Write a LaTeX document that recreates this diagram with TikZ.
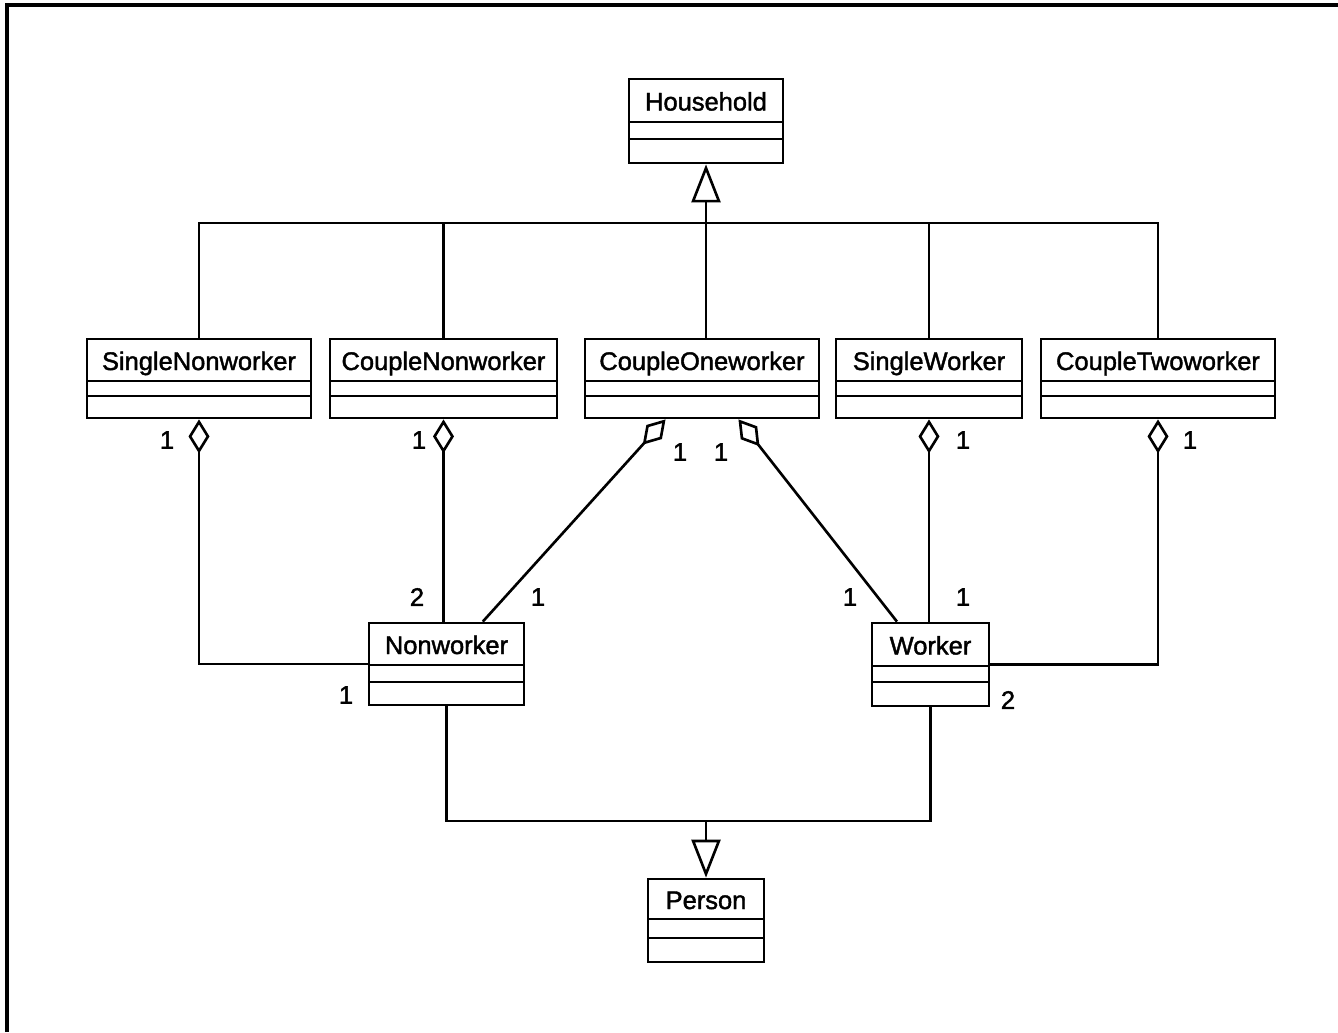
\documentclass[tikz,border=0pt]{standalone}
\usepackage{fontspec}
\setmainfont{Liberation Sans}
\newfontfamily\umlfont{Liberation Sans}[FakeBold=1.6]
\usetikzlibrary{arrows.meta,calc,fit}

\tikzset{
  classbox/.style={draw, line width=1.6pt, inner sep=0pt},
  classname/.style={font=\umlfont\fontsize{14.5}{17}\selectfont, anchor=base, inner sep=0pt},
  mult/.style={font=\umlfont\fontsize{14.5}{17}\selectfont, inner sep=0pt},
  conn/.style={line width=1.5pt},
  gen/.style={conn, -{Triangle[open, fill=white, length=0.76cm, width=0.58cm]}},
  agg/.style={conn, -{Diamond[open, fill=white, length=0.68cm, width=0.42cm]}},
}

% UML class: id, left, top, right, bottom, first divider, second divider, name
\newcommand{\umlclass}[8]{%
  \node[classbox, fit={(#2,#3) (#4,#5)}] (#1) {};
  \draw[line width=1.6pt] (#2,#6) -- (#4,#6) (#2,#7) -- (#4,#7);
  \node[classname] (#1-name) at ({(#2+#4)/2}, {(#3+#6)/2+10}) {#8};
}

\begin{document}
\begin{tikzpicture}[x=0.02cm, y=-0.02cm]
\useasboundingbox (0,0) rectangle (1338,1032);

% frame
\draw[line width=2.2pt] (7,1032) -- (7,5) -- (1338,5);

% classes
\umlclass{hh}{629}{79}{783}{163}{122}{139}{Household}
\umlclass{sn}{87}{339}{311}{418}{381}{396}{SingleNonworker}
\umlclass{cn}{330}{339}{557}{418}{381}{396}{CoupleNonworker}
\umlclass{co}{585}{339}{819}{418}{381}{396}{CoupleOneworker}
\umlclass{sw}{836}{339}{1022}{418}{381}{396}{SingleWorker}
\umlclass{ct}{1041}{339}{1275}{418}{381}{396}{CoupleTwoworker}
\umlclass{nw}{369}{623}{524}{705}{665}{682}{Nonworker}
\umlclass{wk}{872}{623}{989}{706}{666}{682}{Worker}
\umlclass{ps}{648}{879}{764}{962}{919}{938}{Person}

% generalization to Household
\coordinate (bar) at (706,223);
\draw[conn] (sn.north) -- (sn.north |- bar) -- (ct.north |- bar) -- (ct.north);
\draw[conn] (cn.north) -- (cn.north |- bar);
\draw[conn] (bar) -- (bar |- co.north);
\draw[conn] (sw.north) -- (sw.north |- bar);
\draw[gen] (bar) -- (hh.south);

% aggregations
\draw[agg] (nw.west) -| (sn.south);
\draw[agg] (cn.south |- nw.north) -- (cn.south);
\draw[agg] ($(nw.north west)!0.73!(nw.north east)$) -- ($(co.south west)!0.346!(co.south east)$);
\draw[agg] ($(wk.north west)!0.22!(wk.north east)$) -- ($(co.south west)!0.654!(co.south east)$);
\draw[agg] (sw.south |- wk.north) -- (sw.south);
\draw[agg] (wk.east) -| (ct.south);

% generalization to Person
\coordinate (pbar) at (706,821);
\draw[conn] (nw.south) -- (nw.south |- pbar) -- (wk.south |- pbar) -- (wk.south);
\draw[gen] (pbar) -- (ps.north);

% multiplicities
\node[mult] (m1) at (167,440) {1};
\node[mult] (m2) at (419,440) {1};
\node[mult] (m3) at (680,452) {1};
\node[mult] (m4) at (721,452) {1};
\node[mult] (m5) at (963,440) {1};
\node[mult] (m6) at (1190,440) {1};
\node[mult] (m7) at (417,597) {2};
\node[mult] (m8) at (538,597) {1};
\node[mult] (m9) at (850,597) {1};
\node[mult] (m10) at (963,597) {1};
\node[mult] (m11) at (346,695) {1};
\node[mult] (m12) at (1008,700) {2};
\end{tikzpicture}
\end{document}
